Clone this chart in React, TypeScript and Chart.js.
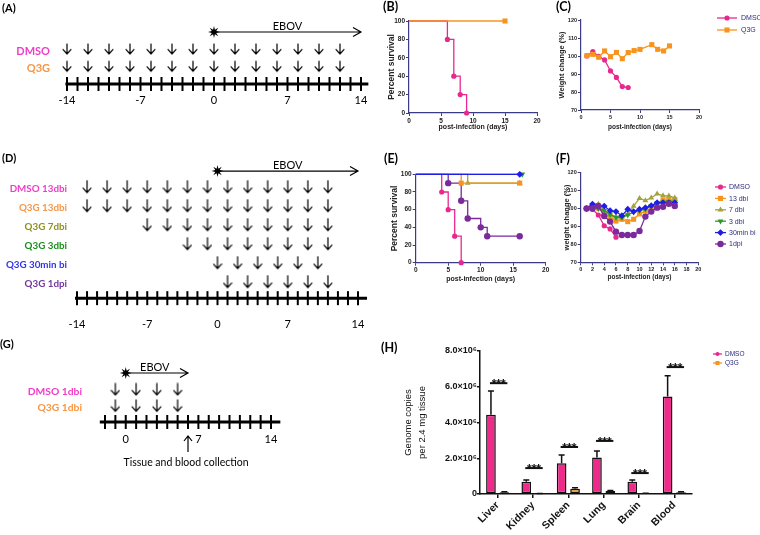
import React, { useEffect, useRef } from 'react';
import { Chart, registerables } from 'chart.js';

Chart.register(...registerables);

// ================= DATA =================
// (A) dosing schedule, days relative to infection
const A_GROUPS = ['DMSO', 'Q3G'];
const A_DOSE_DAYS = [-14, -12, -10, -8, -6, -4, -2, 0, 2, 4, 6, 8, 10, 12];
const A_TICK_LABELS = [-14, -7, 0, 7, 14];
const A_EBOV = [0, 14];

// (D)
const D_GROUPS = ['DMSO 13dbi', 'Q3G 13dbi', 'Q3G 7dbi', 'Q3G 3dbi', 'Q3G 30min bi', 'Q3G 1dpi'];
const D_DOSE_13DBI = [-13, -11, -9, -7, -5, -3, -1, 1, 3, 5, 7, 9, 11];
const D_DOSE_7DBI = [-7, -5, -3, -1, 1, 3, 5, 7, 9, 11];
const D_DOSE_3DBI = [-3, -1, 1, 3, 5, 7, 9, 11];
const D_DOSE_30MIN = [0, 2, 4, 6, 8, 10];
const D_DOSE_1DPI = [1, 3, 5, 7, 9, 11];
const D_TICK_LABELS = [-14, -7, 0, 7, 14];
const D_EBOV = [0, 14];

// (G)
const G_GROUPS = ['DMSO 1dbi', 'Q3G 1dbi'];
const G_DOSE_DAYS = [-1, 1, 3, 5];
const G_TICK_LABELS = [0, 7, 14];
const G_EBOV = [0, 6];
const G_COLLECTION_DAY = 6;
const G_COLLECTION_TEXT = 'Tissue and blood collection';

// (B) survival
const B_DMSO_X = [0, 6, 7, 8, 9];
const B_DMSO_Y = [100, 80, 40, 20, 0];
const B_Q3G_X = [0, 15];
const B_Q3G_Y = [100, 100];

// (C) weight change
const C_DMSO_X = [1, 2, 3, 4, 5, 6, 7, 8];
const C_DMSO_Y = [100, 102.5, 99.8, 97.8, 91.7, 88.1, 83, 82.5];
const C_Q3G_X = [1, 2, 3, 4, 5, 6, 7, 8, 9, 10, 12, 13, 14, 15];
const C_Q3G_Y = [100.2, 100.9, 99.3, 102.8, 99.6, 102, 98.5, 101.9, 103, 103.7, 106.3, 103.7, 102.8, 105.6];

// (E) survival
const E_DMSO_X = [0, 4, 5, 6, 7];
const E_DMSO_Y = [100, 80, 60, 30, 0];
const E_13DBI_X = [0, 7, 16];
const E_13DBI_Y = [100, 90, 90];
const E_7DBI_X = [0, 8, 16];
const E_7DBI_Y = [100, 90, 90];
const E_3DBI_X = [0, 16.4];
const E_3DBI_Y = [100, 100];
const E_30MIN_X = [0, 16];
const E_30MIN_Y = [100, 100];
const E_1DPI_X = [0, 5, 7, 8, 10, 11, 16];
const E_1DPI_Y = [100, 90, 70, 50, 40, 30, 30];

// (F) weight change
const F_DAYS = [1, 2, 3, 4, 5, 6, 7, 8, 9, 10, 11, 12, 13, 14, 15, 16];
const F_DMSO_DAYS = [1, 2, 3, 4, 5, 6];
const F_DMSO = [100, 99.6, 96.4, 90.4, 88.6, 84];
const F_13DBI = [100, 100, 100.2, 97.3, 95.5, 93, 94, 92.7, 94, 97, 98.6, 100, 102.5, 104.8, 104.8, 105];
const F_7DBI = [100, 102.5, 102.5, 98.8, 96.4, 95.5, 95.5, 96.8, 101.4, 105.7, 104.4, 106, 108.2, 107.2, 107, 106];
const F_3DBI = [100, 100, 100, 99, 96.8, 95, 95, 96.4, 98, 98.8, 99.7, 101.4, 103, 103.5, 103.8, 103.5];
const F_30MIN = [100, 102.5, 101.4, 101.4, 98.8, 98.3, 96, 99.6, 98.3, 99.6, 100.5, 101.6, 103.3, 103.3, 103.3, 103.3];
const F_1DPI = [100, 100, 101.5, 95.8, 92.7, 87.1, 85.2, 85.2, 85.2, 87.5, 95.5, 98.3, 100.5, 101, 102.7, 101.4];

// (H) viral load
const H_TISSUES = ['Liver', 'Kidney', 'Spleen', 'Lung', 'Brain', 'Blood'];
const H_DMSO = [4.43e6, 0.69e6, 1.72e6, 2.04e6, 0.69e6, 5.45e6];
const H_DMSO_ERR = [1.33e6, 0.09e6, 0.46e6, 0.37e6, 0.09e6, 1.17e6];
const H_Q3G = [0.1e6, 0.02e6, 0.3e6, 0.17e6, 0.03e6, 0.1e6];
const H_Q3G_ERR = [0.03e6, 0.01e6, 0.05e6, 0.03e6, 0.01e6, 0.02e6];
const H_SIG_LEVEL = [6.2e6, 1.45e6, 2.63e6, 2.97e6, 1.17e6, 7.1e6];
const H_SIG_MARK = '***';

// ================= STYLE =================
const TL_FONT = 'Lato, "Open Sans", sans-serif';
const PR_FONT = '"Liberation Sans", Arial, sans-serif';
const AX = '#3a3a86';
const TICK_COL = '#222';
const LEG_TEXT = '#2b2b7c';

const T_PINK = '#f03cc8';
const T_ORANGE = '#f79646';
const T_OLIVE = '#8f8f22';
const T_GREEN = '#1a8f1a';
const T_BLUE = '#3333f0';
const T_PURPLE = '#7434a0';

const C_MAG = '#e8288f';
const C_ORG = '#f7941d';
const C_OLV = '#a3a23c';
const C_GRN = '#2a9a2a';
const C_BLU = '#1e1ee8';
const C_PUR = '#7b2a9c';
const BAR_PINK = '#ee2a8a';

// ================= HELPERS =================
function makeArrow(h: number, w: number, lw: number) {
  const c = document.createElement('canvas');
  c.width = Math.ceil(w + 2);
  c.height = Math.ceil(h + 2);
  const g = c.getContext('2d')!;
  const cx = c.width / 2;
  g.strokeStyle = '#000';
  g.lineWidth = lw;
  g.lineCap = 'round';
  g.lineJoin = 'round';
  g.beginPath();
  g.moveTo(cx, 1);
  g.lineTo(cx, h + 0.5);
  g.moveTo(cx - w / 2, h + 0.5 - w * 0.55);
  g.lineTo(cx, h + 0.5);
  g.lineTo(cx + w / 2, h + 0.5 - w * 0.55);
  g.stroke();
  return c;
}

function drawMarker(ctx: CanvasRenderingContext2D, style: string, x: number, y: number, r: number, color: string) {
  ctx.fillStyle = color;
  ctx.beginPath();
  if (style === 'circle') ctx.arc(x, y, r, 0, Math.PI * 2);
  else if (style === 'rect') {
    const s = r * Math.SQRT1_2;
    ctx.rect(x - s, y - s, 2 * s, 2 * s);
  } else if (style === 'rectRot') {
    ctx.moveTo(x, y - r);
    ctx.lineTo(x + r, y);
    ctx.lineTo(x, y + r);
    ctx.lineTo(x - r, y);
    ctx.closePath();
  } else if (style === 'triangle' || style === 'triangleDown') {
    const d = style === 'triangle' ? 1 : -1;
    ctx.moveTo(x, y - d * r);
    ctx.lineTo(x + r * 0.866, y + d * r * 0.5);
    ctx.lineTo(x - r * 0.866, y + d * r * 0.5);
    ctx.closePath();
  }
  ctx.fill();
}

const legendPlugin = {
  id: 'prismLegend',
  afterDraw(chart: any, _a: any, o: any) {
    const { ctx } = chart;
    ctx.save();
    o.items.forEach((it: any, i: number) => {
      const y = o.y + i * o.dy;
      ctx.strokeStyle = it.color;
      ctx.lineWidth = 1.3;
      ctx.beginPath();
      ctx.moveTo(o.x0, y);
      ctx.lineTo(o.x1, y);
      ctx.stroke();
      drawMarker(ctx, it.style, (o.x0 + o.x1) / 2, y, it.r, it.color);
      ctx.fillStyle = LEG_TEXT;
      ctx.font = `${o.size}px ${PR_FONT}`;
      ctx.textAlign = 'left';
      ctx.textBaseline = 'middle';
      ctx.fillText(it.label, o.tx, y + 0.5);
    });
    ctx.restore();
  },
};

function drawStar(ctx: CanvasRenderingContext2D, x: number, y: number, ro: number, ri: number) {
  ctx.beginPath();
  for (let k = 0; k < 16; k++) {
    const a = (k * Math.PI) / 8 - Math.PI / 2;
    const r = k % 2 === 0 ? ro : ri;
    const px = x + Math.cos(a) * r;
    const py = y + Math.sin(a) * r;
    if (k === 0) ctx.moveTo(px, py);
    else ctx.lineTo(px, py);
  }
  ctx.closePath();
  ctx.fill();
}

const timelinePlugin = {
  id: 'timeline',
  afterDatasetsDraw(chart: any, _a: any, o: any) {
    const { ctx } = chart;
    const X = (v: number) => chart.scales.x.getPixelForValue(v);
    const Y = (v: number) => chart.scales.y.getPixelForValue(v);
    ctx.save();
    ctx.strokeStyle = '#000';
    ctx.fillStyle = '#000';
    const ay = Y(o.axisRow);
    // baseline
    ctx.lineWidth = 3;
    ctx.beginPath();
    ctx.moveTo(X(o.lineFrom), ay);
    ctx.lineTo(X(o.lineTo), ay);
    ctx.stroke();
    // day ticks
    ctx.lineWidth = 2;
    for (let d = o.tickFrom; d <= o.tickTo; d++) {
      ctx.beginPath();
      ctx.moveTo(X(d), ay - 7);
      ctx.lineTo(X(d), ay + 7);
      ctx.stroke();
    }
    // tick labels
    ctx.font = `11px ${TL_FONT}`;
    ctx.textAlign = 'center';
    ctx.textBaseline = 'middle';
    o.tickLabels.forEach((v: number) => ctx.fillText(String(v), X(v), ay + o.labelDy));
    // EBOV arrow
    const ey = Y(o.ebovRow);
    const ex0 = X(o.ebov[0]);
    const ex1 = X(o.ebov[1]);
    ctx.lineWidth = 1.2;
    ctx.beginPath();
    ctx.moveTo(ex0, ey);
    ctx.lineTo(ex1, ey);
    ctx.moveTo(ex1 - 8, ey - 4.5);
    ctx.lineTo(ex1, ey);
    ctx.lineTo(ex1 - 8, ey + 4.5);
    ctx.stroke();
    drawStar(ctx, ex0, ey, 6, 2.4);
    ctx.fillText('EBOV', X(o.ebovTextAt), ey - 5.5);
    // group labels
    ctx.font = `bold ${o.labelSize}px ${TL_FONT}`;
    ctx.textAlign = 'right';
    o.rowLabels.forEach((r: any) => {
      ctx.fillStyle = r.color;
      ctx.fillText(r.text, o.labelX, Y(r.row) + 2);
    });
    // collection marker
    if (o.collection) {
      const cx = X(o.collection.day);
      ctx.strokeStyle = '#000';
      ctx.fillStyle = '#000';
      ctx.lineWidth = 1.2;
      ctx.beginPath();
      ctx.moveTo(cx, ay + 30);
      ctx.lineTo(cx, ay + 14);
      ctx.moveTo(cx - 4, ay + 19);
      ctx.lineTo(cx, ay + 14);
      ctx.lineTo(cx + 4, ay + 19);
      ctx.stroke();
      ctx.font = `10.5px ${TL_FONT}`;
      ctx.textAlign = 'center';
      ctx.fillText(o.collection.text, cx - 2, ay + 41);
    }
    ctx.restore();
  },
};

function timelineConfig(c: any) {
  const img = makeArrow(c.arrowH, 8, 1.2);
  return {
    type: 'scatter',
    data: {
      datasets: c.rows.map((r: any) => ({
        data: r.days.map((d: number) => ({ x: d, y: r.row })),
        pointStyle: img,
        pointRadius: 1,
        clip: false,
      })),
    },
    options: {
      responsive: false,
      animation: false,
      events: [],
      layout: { padding: c.padding },
      plugins: { legend: { display: false }, tooltip: { enabled: false }, timeline: c.tl },
      scales: {
        x: { type: 'linear', display: false, min: c.x[0], max: c.x[1] },
        y: { type: 'linear', display: false, min: c.y[0], max: c.y[1], reverse: true },
      },
    },
    plugins: [timelinePlugin],
  };
}

function lineDs(label: string, xs: number[], ys: number[], color: string, style: string, extra: any = {}) {
  return {
    label,
    data: xs.map((x, i) => ({ x, y: ys[i] })),
    showLine: true,
    borderColor: color,
    backgroundColor: color,
    borderWidth: 1.3,
    pointStyle: style,
    pointRadius: 2.6,
    pointBorderWidth: 0,
    pointBackgroundColor: color,
    pointBorderColor: color,
    clip: false,
    ...extra,
  };
}
const surv = (r: number, extra: any = {}) => ({
  stepped: true,
  pointRadius: (c: any) => (c.dataIndex === 0 ? 0 : r),
  ...extra,
});

function prismConfig(o: any) {
  return {
    type: 'scatter',
    data: { datasets: o.datasets },
    options: {
      responsive: false,
      animation: false,
      events: [],
      layout: { padding: o.padding },
      plugins: { legend: { display: false }, tooltip: { enabled: false }, prismLegend: o.legend ?? false },
      scales: {
        x: {
          type: 'linear',
          min: o.x[0],
          max: o.x[1],
          ticks: { stepSize: o.x[2], autoSkip: false, maxRotation: 0, padding: 1, color: TICK_COL, font: { family: PR_FONT, size: o.tickSize, weight: 'bold' } },
          grid: { display: true, drawOnChartArea: false, drawTicks: true, tickLength: 3, color: AX, lineWidth: 1 },
          border: { display: true, color: AX, width: 1.2 },
          title: { display: true, text: o.xTitle, color: '#222', font: { family: PR_FONT, size: o.xTitleSize, weight: 'bold' }, padding: { top: 0, bottom: o.xTitlePad } },
          afterFit: (s: any) => { s.height = o.xH; },
        },
        y: {
          type: 'linear',
          min: o.y[0],
          max: o.y[1],
          ticks: { stepSize: o.y[2], autoSkip: false, padding: 1, color: TICK_COL, font: { family: PR_FONT, size: o.tickSize, weight: 'bold' } },
          grid: { display: true, drawOnChartArea: false, drawTicks: true, tickLength: 3, color: AX, lineWidth: 1 },
          border: { display: true, color: AX, width: 1.2 },
          title: { display: true, text: o.yTitle, color: '#222', font: { family: PR_FONT, size: o.yTitleSize, weight: 'bold' }, padding: { top: o.yTitlePad, bottom: 0 } },
          afterFit: (s: any) => { s.width = o.yW; },
        },
      },
    },
    plugins: [legendPlugin],
  };
}

const barExtrasPlugin = {
  id: 'barExtras',
  afterDatasetsDraw(chart: any, _a: any, o: any) {
    const { ctx } = chart;
    const ys = chart.scales.y;
    ctx.save();
    ctx.strokeStyle = '#111';
    ctx.lineWidth = 1.5;
    o.errors.forEach((errs: number[], di: number) => {
      const meta = chart.getDatasetMeta(di);
      meta.data.forEach((bar: any, i: number) => {
        const v = chart.data.datasets[di].data[i];
        const top = ys.getPixelForValue(v + errs[i]);
        ctx.beginPath();
        ctx.moveTo(bar.x, bar.y);
        ctx.lineTo(bar.x, top);
        ctx.moveTo(bar.x - 3, top);
        ctx.lineTo(bar.x + 3, top);
        ctx.stroke();
      });
    });
    const m0 = chart.getDatasetMeta(0);
    const m1 = chart.getDatasetMeta(1);
    ctx.lineWidth = 2;
    ctx.fillStyle = '#111';
    ctx.font = `bold 12px ${PR_FONT}`;
    ctx.textAlign = 'center';
    ctx.textBaseline = 'alphabetic';
    o.sig.forEach((lvl: number, i: number) => {
      const yy = ys.getPixelForValue(lvl);
      const x0 = m0.data[i].x - 1;
      const x1 = m1.data[i].x + 3;
      ctx.beginPath();
      ctx.moveTo(x0, yy);
      ctx.lineTo(x1, yy);
      ctx.stroke();
      ctx.fillText(o.mark, (x0 + x1) / 2, yy + 5);
    });
    ctx.restore();
  },
};

// ================= CONFIGS =================
const configA = () =>
  timelineConfig({
    arrowH: 10.5,
    padding: { left: 67, right: 19, top: 32, bottom: 56 },
    x: [-14, 14],
    y: [0, 3],
    rows: [
      { row: 1, days: A_DOSE_DAYS },
      { row: 2, days: A_DOSE_DAYS },
    ],
    tl: {
      axisRow: 3, lineFrom: -14.15, lineTo: 14.7, tickFrom: -14, tickTo: 14,
      tickLabels: A_TICK_LABELS, labelDy: 16,
      ebovRow: 0, ebov: A_EBOV, ebovTextAt: 7,
      labelX: 50, labelSize: 11,
      rowLabels: [
        { text: A_GROUPS[0], color: T_PINK, row: 1 },
        { text: A_GROUPS[1], color: T_ORANGE, row: 2 },
      ],
    },
  });

const configD = () =>
  timelineConfig({
    arrowH: 12.5,
    padding: { left: 77, right: 22, top: 37, bottom: 48 },
    x: [-14, 14],
    y: [1, 6],
    rows: [
      { row: 1, days: D_DOSE_13DBI },
      { row: 2, days: D_DOSE_13DBI },
      { row: 3, days: D_DOSE_7DBI },
      { row: 4, days: D_DOSE_3DBI },
      { row: 5, days: D_DOSE_30MIN },
      { row: 6, days: D_DOSE_1DPI },
    ],
    tl: {
      axisRow: 6.85, lineFrom: -14.2, lineTo: 14.9, tickFrom: -14, tickTo: 14,
      tickLabels: D_TICK_LABELS, labelDy: 26,
      ebovRow: 0.16, ebov: D_EBOV, ebovTextAt: 7,
      labelX: 67, labelSize: 9.8,
      rowLabels: [
        { text: D_GROUPS[0], color: T_PINK, row: 1 },
        { text: D_GROUPS[1], color: T_ORANGE, row: 2 },
        { text: D_GROUPS[2], color: T_OLIVE, row: 3 },
        { text: D_GROUPS[3], color: T_GREEN, row: 4 },
        { text: D_GROUPS[4], color: T_BLUE, row: 5 },
        { text: D_GROUPS[5], color: T_PURPLE, row: 6 },
      ],
    },
  });

const configG = () =>
  timelineConfig({
    arrowH: 12,
    padding: { left: 105, right: 29, top: 43, bottom: 68 },
    x: [-2, 14],
    y: [0, 3],
    rows: [
      { row: 1, days: G_DOSE_DAYS },
      { row: 2, days: G_DOSE_DAYS },
    ],
    tl: {
      axisRow: 3, lineFrom: -2.5, lineTo: 14.9, tickFrom: -2, tickTo: 14,
      tickLabels: G_TICK_LABELS, labelDy: 17,
      ebovRow: 0, ebov: G_EBOV, ebovTextAt: 2.8,
      labelX: 82, labelSize: 10.3,
      rowLabels: [
        { text: G_GROUPS[0], color: T_PINK, row: 1 },
        { text: G_GROUPS[1], color: T_ORANGE, row: 2 },
      ],
      collection: { day: G_COLLECTION_DAY, text: G_COLLECTION_TEXT },
    },
  });

const configB = () =>
  prismConfig({
    datasets: [
      lineDs('Q3G', B_Q3G_X, B_Q3G_Y, C_ORG, 'rect', surv(3.6)),
      lineDs('DMSO', B_DMSO_X, B_DMSO_Y, C_MAG, 'circle', surv(2.6)),
    ],
    padding: { left: 0, top: 21, right: 23, bottom: 0 },
    x: [0, 20, 5], y: [0, 100, 20],
    tickSize: 6.5,
    xTitle: 'post-infection (days)', xTitleSize: 7, xTitlePad: 9, xH: 27,
    yTitle: 'Percent survival', yTitleSize: 8.5, yTitlePad: 6.6, yW: 29,
  });

const configC = () =>
  prismConfig({
    datasets: [
      lineDs('Q3G', C_Q3G_X, C_Q3G_Y, C_ORG, 'rect', { pointRadius: 3.6 }),
      lineDs('DMSO', C_DMSO_X, C_DMSO_Y, C_MAG, 'circle'),
    ],
    padding: { left: 0, top: 20, right: 61, bottom: 0 },
    x: [0, 20, 5], y: [70, 120, 10],
    tickSize: 5.5,
    xTitle: 'post-infection (days)', xTitleSize: 6.5, xTitlePad: 9, xH: 30,
    yTitle: 'Weight change (%)', yTitleSize: 7.5, yTitlePad: 1.5, yW: 25,
    legend: {
      x0: 161, x1: 181, tx: 185, y: 18, dy: 12, size: 7,
      items: [
        { label: 'DMSO', color: C_MAG, style: 'circle', r: 2.6 },
        { label: 'Q3G', color: C_ORG, style: 'rect', r: 3.6 },
      ],
    },
  });

const configE = () =>
  prismConfig({
    datasets: [
      lineDs('30min bi', E_30MIN_X, E_30MIN_Y, C_BLU, 'rectRot', surv(3.4)),
      lineDs('3 dbi', E_3DBI_X, E_3DBI_Y, C_GRN, 'triangle', surv(3.4, { pointRotation: 180 })),
      lineDs('13 dbi', E_13DBI_X, E_13DBI_Y, C_ORG, 'rect', surv(3.6)),
      lineDs('7 dbi', E_7DBI_X, E_7DBI_Y, C_OLV, 'triangle', surv(3.4)),
      lineDs('1dpi', E_1DPI_X, E_1DPI_Y, C_PUR, 'circle', surv(3.2)),
      lineDs('DMSO', E_DMSO_X, E_DMSO_Y, C_MAG, 'circle', surv(2.6)),
    ],
    padding: { left: 0, top: 24.3, right: 14.3, bottom: 0 },
    x: [0, 20, 5], y: [0, 100, 20],
    tickSize: 6.5,
    xTitle: 'post-infection (days)', xTitleSize: 7, xTitlePad: 16.5, xH: 37.3,
    yTitle: 'Percent survival', yTitleSize: 8.5, yTitlePad: 9.9, yW: 35.7,
  });

const configF = () =>
  prismConfig({
    datasets: [
      lineDs('1dpi', F_DAYS, F_1DPI, C_PUR, 'circle', { pointRadius: 3.2 }),
      lineDs('30min bi', F_DAYS, F_30MIN, C_BLU, 'rectRot', { pointRadius: 3.4 }),
      lineDs('3 dbi', F_DAYS, F_3DBI, C_GRN, 'triangle', { pointRadius: 3.4, pointRotation: 180 }),
      lineDs('7 dbi', F_DAYS, F_7DBI, C_OLV, 'triangle', { pointRadius: 3.4 }),
      lineDs('13 dbi', F_DAYS, F_13DBI, C_ORG, 'rect', { pointRadius: 3.6 }),
      lineDs('DMSO', F_DMSO_DAYS, F_DMSO, C_MAG, 'circle'),
    ],
    padding: { left: 0, top: 22.7, right: 61.7, bottom: 0 },
    x: [0, 20, 2], y: [70, 120, 10],
    tickSize: 5.5,
    xTitle: 'post-infection (days)', xTitleSize: 6.5, xTitlePad: 18.4, xH: 37.7,
    yTitle: 'weight change (%)', yTitleSize: 7.5, yTitlePad: 6.2, yW: 24.7,
    legend: {
      x0: 159, x1: 170, tx: 173, y: 37, dy: 11.4, size: 7,
      items: [
        { label: 'DMSO', color: C_MAG, style: 'circle', r: 2.6 },
        { label: '13 dbi', color: C_ORG, style: 'rect', r: 3.6 },
        { label: '7 dbi', color: C_OLV, style: 'triangle', r: 3.4 },
        { label: '3 dbi', color: C_GRN, style: 'triangleDown', r: 3.4 },
        { label: '30min bi', color: C_BLU, style: 'rectRot', r: 3.4 },
        { label: '1dpi', color: C_PUR, style: 'circle', r: 3.2 },
      ],
    },
  });

const configH = () => ({
  type: 'bar',
  data: {
    labels: H_TISSUES,
    datasets: [
      { label: 'DMSO', data: H_DMSO, backgroundColor: BAR_PINK, borderColor: '#111', borderWidth: 1.5, borderSkipped: false, barPercentage: 0.72, categoryPercentage: 0.76 },
      { label: 'Q3G', data: H_Q3G, backgroundColor: C_ORG, borderColor: '#111', borderWidth: 1.5, borderSkipped: false, barPercentage: 0.72, categoryPercentage: 0.76 },
    ],
  },
  options: {
    responsive: false,
    animation: false,
    events: [],
    layout: { padding: { left: 0, top: 21, right: 68, bottom: 0 } },
    plugins: {
      legend: { display: false },
      tooltip: { enabled: false },
      barExtras: { errors: [H_DMSO_ERR, H_Q3G_ERR], sig: H_SIG_LEVEL, mark: H_SIG_MARK },
      prismLegend: {
        x0: 333, x1: 342, tx: 345, y: 24, dy: 9, size: 6.5,
        items: [
          { label: 'DMSO', color: C_MAG, style: 'circle', r: 2 },
          { label: 'Q3G', color: C_ORG, style: 'rect', r: 2.8 },
        ],
      },
    },
    scales: {
      x: {
        type: 'category',
        offset: true,
        grid: { display: true, drawOnChartArea: false, offset: false, tickLength: 4, color: '#111', lineWidth: 1.5 },
        border: { display: true, color: '#111', width: 1.5 },
        ticks: { minRotation: 45, maxRotation: 45, autoSkip: false, padding: 1, color: '#111', font: { family: PR_FONT, size: 10.5, weight: 'bold' } },
        afterFit: (s: any) => { s.height = 41; },
      },
      y: {
        min: 0,
        max: 8e6,
        ticks: {
          stepSize: 2e6,
          padding: 0,
          color: '#111',
          font: { family: PR_FONT, size: 9, weight: 'bold' },
          callback: (v: number) => (v === 0 ? '0' : (v / 1e6).toFixed(1) + '×10⁶'),
        },
        grid: { display: true, drawOnChartArea: false, tickLength: 3, color: '#111', lineWidth: 1.5 },
        border: { display: true, color: '#111', width: 1.5 },
        title: {
          display: true,
          text: ['Genome copies', 'per 2.4 mg tissue'],
          color: '#111',
          font: { family: PR_FONT, size: 9.5, lineHeight: 1.55 },
          padding: { top: 20.6, bottom: 0 },
        },
        afterFit: (s: any) => { s.width = 100; },
      },
    },
  },
  plugins: [barExtrasPlugin, legendPlugin],
});

// ================= COMPONENTS =================
function ChartCanvas({ left, top, width, height, make }: any) {
  const ref = useRef<HTMLCanvasElement>(null);
  useEffect(() => {
    const chart = new Chart(ref.current as HTMLCanvasElement, make());
    return () => chart.destroy();
  }, []);
  return <canvas ref={ref} width={width} height={height} style={{ position: 'absolute', left, top, width, height }} />;
}

function PanelLabel({ text, left, top, size }: any) {
  return (
    <div style={{ position: 'absolute', left, top, font: `bold ${size}px ${TL_FONT}`, lineHeight: `${size + 2}px`, color: '#000', whiteSpace: 'nowrap' }}>
      {text}
    </div>
  );
}

export default function App() {
  return (
    <div style={{ position: 'absolute', left: 0, top: 0, width: 760, height: 535, background: '#fff', overflow: 'hidden' }}>
      <ChartCanvas left={0} top={0} width={380} height={140} make={configA} />
      <ChartCanvas left={380} top={0} width={180} height={140} make={configB} />
      <ChartCanvas left={556} top={0} width={204} height={140} make={configC} />
      <ChartCanvas left={0} top={150} width={380} height={180} make={configD} />
      <ChartCanvas left={380} top={150} width={180} height={150} make={configE} />
      <ChartCanvas left={556} top={150} width={204} height={150} make={configF} />
      <ChartCanvas left={0} top={330} width={300} height={160} make={configG} />
      <ChartCanvas left={380} top={330} width={380} height={205} make={configH} />
      <PanelLabel text="(A)" left={2} top={1} size={11} />
      <PanelLabel text="(B)" left={383} top={0} size={12.5} />
      <PanelLabel text="(C)" left={556} top={0} size={12.5} />
      <PanelLabel text="(D)" left={2} top={151} size={11} />
      <PanelLabel text="(E)" left={384} top={152} size={12.5} />
      <PanelLabel text="(F)" left={556} top={152} size={12.5} />
      <PanelLabel text="(G)" left={0} top={337} size={11} />
      <PanelLabel text="(H)" left={381} top={341} size={12.5} />
    </div>
  );
}
